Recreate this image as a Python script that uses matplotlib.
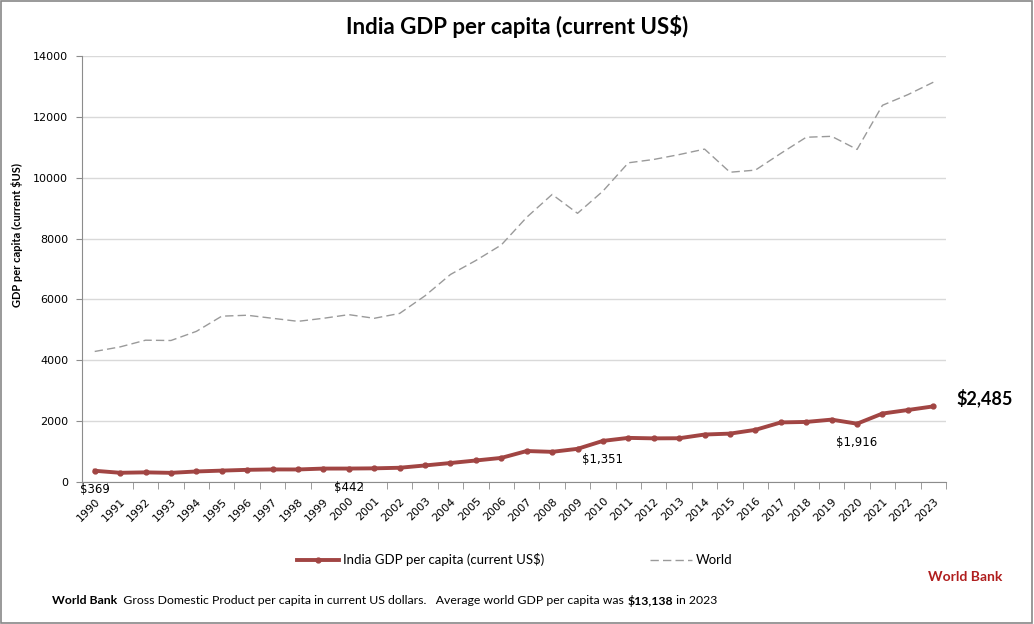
import numpy as np
import matplotlib
matplotlib.use("Agg")
from matplotlib import pyplot as plt
from matplotlib.patches import Rectangle

years = list(range(1990, 2024))
india = [369, 303, 317, 301, 346, 374, 400, 413, 412, 441,
         442, 449, 468, 544, 624, 707, 792, 1018, 991, 1090,
         1351, 1450, 1434, 1438, 1560, 1590, 1714, 1958, 1974, 2050,
         1916, 2250, 2366, 2485]
world = [4290, 4440, 4660, 4650, 4950, 5450, 5480, 5380, 5280, 5380,
         5500, 5380, 5540, 6120, 6820, 7280, 7790, 8700, 9450, 8830,
         9560, 10490, 10600, 10760, 10940, 10180, 10250, 10800, 11330, 11360,
         10930, 12380, 12730, 13138]
# values that carry a label on the India line
labelled = {1990: "$369", 2000: "$442", 2010: "$1,351", 2020: "$1,916"}

W, H = 1034, 624
red = "#A14543"
font = "Lato"

fig = plt.figure(figsize=(W / 100, H / 100), dpi=100)
fig.patches.append(Rectangle((0.001, 0.001), 0.997, 0.997, transform=fig.transFigure,
                             fill=False, edgecolor="#888888", linewidth=1.2))

# plot area in pixels: x 82..946, y 56..482
ax = fig.add_axes([82 / W, 1 - 482 / H, (946 - 82) / W, (482 - 56) / H])
x = np.arange(len(years))

p_world, = ax.plot(x, world, color="#9a9a9a", linewidth=1, dashes=(6, 3), label="World", zorder=2)
p_india, = ax.plot(x, india, color=red, linewidth=2.8, marker="o", markersize=3.5,
                   label="India GDP per capita (current US$)", zorder=3)

ax.set_xlim(-0.5, len(years) - 0.5)
ax.set_ylim(0, 14000)
ax.set_yticks(range(0, 14001, 2000))
ax.yaxis.grid(True, color="#d9d9d9", linewidth=1)
ax.set_axisbelow(True)
for s in ["top", "right"]:
    ax.spines[s].set_visible(False)
for s in ["left", "bottom"]:
    ax.spines[s].set_color("#8c8c8c")

ax.set_xticks(x)
ax.set_xticklabels([str(y) for y in years], rotation=45, ha="right",
                   rotation_mode="anchor", fontsize=8, family="DejaVu Sans")
ax.tick_params(axis="x", which="major", length=0, pad=10)
ax.set_xticks(np.arange(-0.5, len(years)), minor=True)
ax.tick_params(axis="x", which="minor", length=5, color="#8c8c8c")
ax.tick_params(axis="y", labelsize=8, length=4, color="#8c8c8c", pad=6)
for t in ax.get_yticklabels():
    t.set_family("DejaVu Sans")

for yr, txt in labelled.items():
    i = years.index(yr)
    ax.annotate(txt, (x[i], india[i]), xytext=(0, -13.5), textcoords="offset points",
                ha="center", va="center", fontsize=8.5, family="DejaVu Sans")
ax.annotate("$2,485", (x[-1], india[-1]), xytext=(17, 6), textcoords="offset points",
            ha="left", va="center", fontsize=13, fontweight="bold", family=font)

fig.text(517 / W, 1 - 27 / H, "India GDP per capita (current US$)", ha="center", va="center",
         fontsize=16, fontweight="bold", family=font)
fig.text(17 / W, 1 - 235 / H, "GDP per capita (current $US)", rotation=90, ha="center",
         va="center", fontsize=8, fontweight="bold", family=font)

fig.legend(handles=[p_india, p_world], loc="center", bbox_to_anchor=(515 / W, 1 - 560 / H),
           ncol=2, frameon=False, prop={"family": font, "size": 9.5}, handlelength=3.2,
           columnspacing=8, handletextpad=0.3)

fig.text(1002 / W, 1 - 577 / H, "World Bank", ha="right", va="center", fontsize=10,
         fontweight="bold", color="#B01E1E", family=font)

# footer line with mixed weights, placed piece by piece
parts = [("World Bank", "bold"),
         ("  Gross Domestic Product per capita in current US dollars.   Average world GDP per capita was ", "normal"),
         ("$13,138", "bold"),
         (" in 2023", "normal")]
fig.canvas.draw()
r = fig.canvas.get_renderer()
px = 52
for txt, wt in parts:
    t = fig.text(px / W, 1 - 601 / H, txt, ha="left", va="center", fontsize=8.8,
                 fontweight=wt, family=font)
    px += t.get_window_extent(r).width

fig.savefig("out.png", dpi=100)
